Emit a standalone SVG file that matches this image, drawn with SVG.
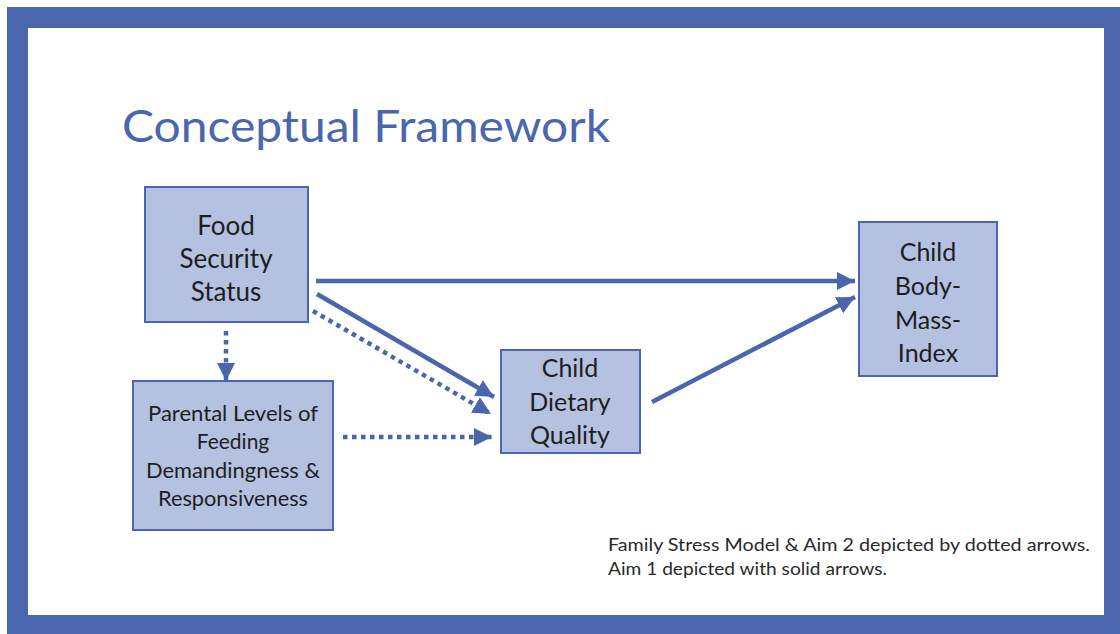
<svg xmlns="http://www.w3.org/2000/svg" width="1120" height="634" viewBox="0 0 1120 634">
<style>
.box{fill:#b4c1e1;stroke:#4a66ad;stroke-width:2}
.t{font-family:Lato,"Open Sans","Liberation Sans",sans-serif;fill:#1e1e1e;text-anchor:middle}
.solid{stroke:#4a66ad;stroke-width:4.5;fill:none}
.dot{stroke:#4a66ad;stroke-width:4.5;fill:none;stroke-dasharray:4.5 4.5}
.leg{font-family:Lato,"Open Sans","Liberation Sans",sans-serif;font-size:17.5px;fill:#2a2a2a}
</style>
<defs>
<marker id="ah" markerUnits="userSpaceOnUse" markerWidth="20" markerHeight="18" refX="18" refY="9" orient="auto">
<path d="M0,0 L18,9 L0,18 z" fill="#4a66ad"/>
</marker>
</defs>
<rect x="0" y="0" width="1120" height="634" fill="#ffffff"/>
<rect x="7" y="7" width="1113" height="627" fill="#4a66ad"/>
<rect x="28" y="28" width="1076" height="587" fill="#ffffff"/>
<text x="122" y="142" font-family="Lato,'Open Sans','Liberation Sans',sans-serif" font-size="45" fill="#4a66ad" textLength="488" lengthAdjust="spacingAndGlyphs">Conceptual Framework</text>

<g id="connectors">
<line class="solid" x1="316" y1="281" x2="855" y2="281" marker-end="url(#ah)"/>
<line class="solid" x1="317" y1="294" x2="494" y2="397" marker-end="url(#ah)"/>
<line class="dot" x1="313" y1="311" x2="491" y2="414" marker-end="url(#ah)"/>
<line class="dot" x1="343" y1="437" x2="492" y2="437" marker-end="url(#ah)"/>
<line class="dot" x1="226" y1="331" x2="226" y2="381" marker-end="url(#ah)"/>
<line class="solid" x1="652" y1="402" x2="855" y2="297" marker-end="url(#ah)"/>
</g>

<g id="food">
<rect class="box" x="145" y="187" width="163" height="135"/>
<text class="t" font-size="26" x="226" y="235">Food</text>
<text class="t" font-size="26" x="226" y="268">Security</text>
<text class="t" font-size="26" x="226" y="301">Status</text>
</g>

<g id="parental">
<rect class="box" x="133" y="381" width="200" height="149"/>
<text class="t" font-size="21" x="233" y="421" textLength="170" lengthAdjust="spacingAndGlyphs">Parental Levels of</text>
<text class="t" font-size="21" x="233" y="449">Feeding</text>
<text class="t" font-size="21" x="233" y="478" textLength="174" lengthAdjust="spacingAndGlyphs">Demandingness &amp;</text>
<text class="t" font-size="21" x="233" y="506" textLength="150" lengthAdjust="spacingAndGlyphs">Responsiveness</text>
</g>

<g id="dietary">
<rect class="box" x="501" y="350" width="139" height="103"/>
<text class="t" font-size="25" x="570" y="377">Child</text>
<text class="t" font-size="25" x="570" y="411">Dietary</text>
<text class="t" font-size="25" x="570" y="444">Quality</text>
</g>

<g id="bmi">
<rect class="box" x="859" y="222" width="138" height="154"/>
<text class="t" font-size="25" x="928" y="261">Child</text>
<text class="t" font-size="25" x="928" y="295">Body-</text>
<text class="t" font-size="25" x="928" y="329">Mass-</text>
<text class="t" font-size="25" x="928" y="362">Index</text>
</g>

<g id="legend">
<text class="leg" x="608" y="551" textLength="482" lengthAdjust="spacingAndGlyphs">Family Stress Model &amp; Aim 2 depicted by dotted arrows.</text>
<text class="leg" x="608" y="575" textLength="279" lengthAdjust="spacingAndGlyphs">Aim 1 depicted with solid arrows.</text>
</g>
</svg>
